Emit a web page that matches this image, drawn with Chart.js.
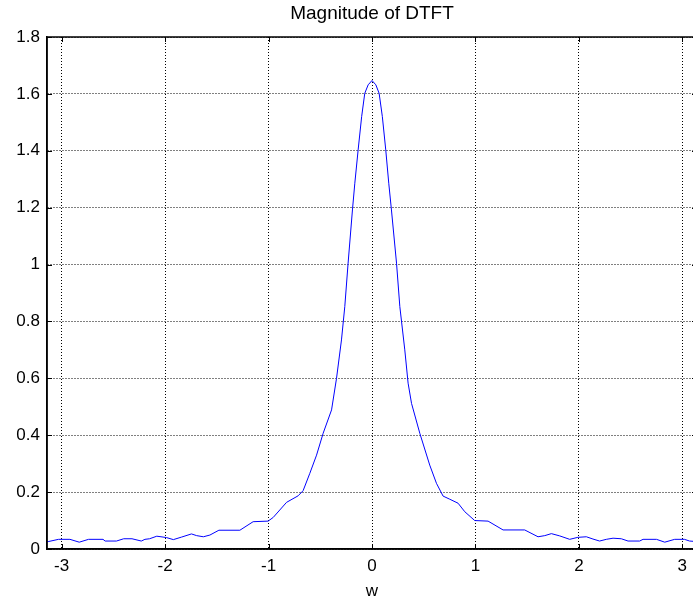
<!DOCTYPE html>
<html>
<head>
<meta charset="utf-8">
<script src="https://cdn.jsdelivr.net/npm/chart.js@4/dist/chart.umd.min.js"></script>
<style>
html,body{margin:0;padding:0;overflow:hidden;background:#fff;}
#wrap{position:absolute;left:0;top:0;width:744px;height:600px;}
</style>
</head>
<body>
<div id="wrap"><canvas id="c"></canvas></div>
<script>
const chartTitle = "Magnitude of DTFT";
const xLabel = "w";
const xTicks = [-3, -2, -1, 0, 1, 2, 3];
const yTicks = [0, 0.2, 0.4, 0.6, 0.8, 1, 1.2, 1.4, 1.6, 1.8];
const w = [-3.1416,-3.13,-3.03,-2.92,-2.83,-2.74,-2.60,-2.58,-2.47,-2.40,-2.32,-2.23,-2.195,-2.15,-2.08,-2.02,-1.985,-1.92,-1.84,-1.745,-1.695,-1.63,-1.567,-1.48,-1.277,-1.149,-1.004,-0.955,-0.826,-0.714,-0.666,-0.601,-0.536,-0.472,-0.391,-0.343,-0.295,-0.263,-0.231,-0.189,-0.166,-0.134,-0.10,-0.07,-0.037,0.0,0.037,0.069,0.10,0.133,0.162,0.188,0.237,0.269,0.317,0.349,0.382,0.462,0.558,0.623,0.687,0.752,0.832,0.897,0.993,1.122,1.267,1.476,1.605,1.67,1.734,1.815,1.911,1.99,2.072,2.136,2.20,2.265,2.33,2.41,2.475,2.587,2.62,2.75,2.83,2.926,3.02,3.07,3.1416];
const magnitude = [0.026,0.026,0.034,0.034,0.024,0.034,0.034,0.028,0.028,0.036,0.036,0.028,0.034,0.036,0.045,0.042,0.040,0.033,0.042,0.053,0.047,0.043,0.049,0.066,0.066,0.096,0.098,0.111,0.164,0.187,0.205,0.266,0.33,0.407,0.489,0.60,0.735,0.852,1.005,1.192,1.286,1.403,1.52,1.602,1.632,1.647,1.632,1.602,1.52,1.403,1.286,1.192,1.005,0.852,0.70,0.583,0.512,0.407,0.295,0.231,0.186,0.175,0.161,0.131,0.100,0.098,0.067,0.067,0.043,0.047,0.054,0.046,0.034,0.041,0.043,0.035,0.028,0.034,0.038,0.036,0.028,0.028,0.034,0.034,0.024,0.034,0.034,0.028,0.026];

const FONT = "'Liberation Sans', Arial, sans-serif";

const frame = {
  id: 'frame',
  afterDatasetsDraw(chart) {
    const {ctx, chartArea: a, scales} = chart;
    ctx.save();
    ctx.strokeStyle = '#000';
    ctx.lineWidth = 1;
    ctx.beginPath();
    const tl = 5;
    xTicks.forEach(v => {
      const px = Math.round(scales.x.getPixelForValue(v)) + 0.5;
      ctx.moveTo(px, a.bottom); ctx.lineTo(px, a.bottom - tl);
      ctx.moveTo(px, a.top); ctx.lineTo(px, a.top + tl);
    });
    yTicks.forEach(v => {
      const py = Math.round(scales.y.getPixelForValue(v)) + 0.5;
      ctx.moveTo(a.left, py); ctx.lineTo(a.left + tl, py);
      ctx.moveTo(a.right, py); ctx.lineTo(a.right - tl, py);
    });
    ctx.stroke();
    ctx.lineWidth = 1.5;
    ctx.strokeRect(a.left, a.top, a.right - a.left, a.bottom - a.top);
    ctx.restore();
  }
};

new Chart(document.getElementById('c'), {
  type: 'line',
  data: {
    datasets: [{
      data: w.map((x, i) => ({x: x, y: magnitude[i]})),
      borderColor: '#0000ff',
      borderWidth: 1,
      pointRadius: 0,
      tension: 0,
      fill: false
    }]
  },
  options: {
    responsive: true,
    maintainAspectRatio: false,
    animation: false,
    layout: {padding: 0},
    plugins: {
      legend: {display: false},
      tooltip: {enabled: false},
      title: {
        display: true,
        text: chartTitle,
        color: '#000',
        font: {family: FONT, size: 19, weight: 'normal'},
        padding: {top: 2, bottom: 12.2}
      }
    },
    scales: {
      x: {
        type: 'linear',
        min: -Math.PI,
        max: Math.PI,
        afterBuildTicks: s => { s.ticks = xTicks.map(v => ({value: v})); },
        afterFit: s => { s.height = 51; },
        ticks: {
          color: '#000',
          font: {family: FONT, size: 17},
          padding: 7,
          maxRotation: 0,
          autoSkip: false,
          callback: v => String(v)
        },
        grid: {color: '#000', lineWidth: 1, drawTicks: false},
        border: {display: true, color: '#000', width: 1.5, dash: [1, 2]},
        title: {
          display: true,
          text: xLabel,
          color: '#000',
          font: {family: FONT, size: 17, lineHeight: 1.0},
          padding: {top: 0, bottom: 0}
        }
      },
      y: {
        type: 'linear',
        position: 'left',
        min: 0,
        max: 1.8,
        afterBuildTicks: s => { s.ticks = yTicks.map(v => ({value: v})); },
        afterFit: s => { s.width = 47; },
        ticks: {
          color: '#000',
          font: {family: FONT, size: 17},
          padding: 7,
          autoSkip: false,
          callback: v => String(v)
        },
        grid: {color: '#000', lineWidth: 1, drawTicks: false},
        border: {display: true, color: '#000', width: 1.5, dash: [1, 2]}
      },
      yRight: {
        type: 'linear',
        position: 'right',
        min: 0,
        max: 1.8,
        afterFit: s => { s.width = 47; },
        ticks: {display: false},
        grid: {drawOnChartArea: false, drawTicks: false},
        border: {display: false}
      }
    }
  },
  plugins: [frame]
});
</script>
</body>
</html>
